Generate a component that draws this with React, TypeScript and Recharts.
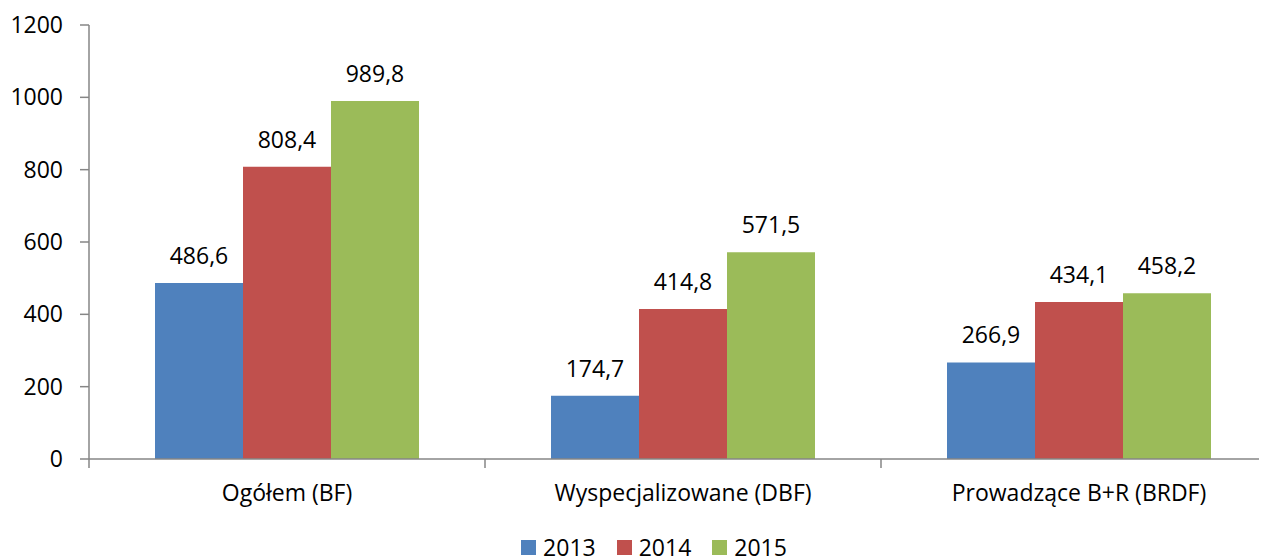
import React from 'react';
import { BarChart, Bar, XAxis, YAxis, Legend, LabelList } from 'recharts';

const categories = ['Ogółem (BF)', 'Wyspecjalizowane (DBF)', 'Prowadzące B+R (BRDF)'];
const values2013 = [486.6, 174.7, 266.9];
const values2014 = [808.4, 414.8, 434.1];
const values2015 = [989.8, 571.5, 458.2];
const yTicks = [0, 200, 400, 600, 800, 1000, 1200];
const seriesNames = ['2013', '2014', '2015'];
const seriesColors = ['#4F81BD', '#C0504D', '#9BBB59'];

const data = categories.map((c, i) => ({
  name: c,
  y2013: values2013[i],
  y2014: values2014[i],
  y2015: values2015[i],
}));

const FONT = '"Open Sans", sans-serif';
const FS = 23;
const AXIS = '#868686';
const fmt = (v: any) => Number(v).toFixed(1).replace('.', ',');

const CatTick = (props: any) => {
  const { x, y, payload } = props;
  const off = payload && payload.offset != null ? payload.offset : props.width / (props.visibleTicksCount || 3) / 2;
  return (
    <g>
      <line x1={x - off} x2={x - off} y1={y - 9} y2={y} stroke={AXIS} strokeWidth={1.5} />
      <text x={x} y={y} dy={33} textAnchor="middle" fontSize={FS} fill="#000" fontFamily={FONT}>
        {payload.value}
      </text>
    </g>
  );
};

const LegendContent = () => (
  <div style={{ display: 'flex', justifyContent: 'center', alignItems: 'center', height: 18, fontFamily: FONT, fontSize: FS, lineHeight: '18px', color: '#000' }}>
    {seriesNames.map((n, i) => (
      <div key={n} style={{ display: 'flex', alignItems: 'center', marginLeft: i === 0 ? 0 : 21 }}>
        <span style={{ display: 'inline-block', width: 15, height: 15, background: seriesColors[i] }} />
        <span style={{ marginLeft: 7 }}>{n}</span>
      </div>
    ))}
  </div>
);

export default function App() {
  return (
    <div style={{ width: 1251, height: 551, overflowX: 'clip', overflowY: 'visible', fontFamily: FONT }}>
      <BarChart
        width={1275}
        height={551}
        data={data}
        margin={{ top: 17, right: 6, bottom: 3, left: 0 }}
        barSize={88}
        barGap={0}
      >
        <YAxis
          width={81}
          domain={[0, 1200]}
          ticks={yTicks}
          interval={0}
          tickSize={9}
          tickMargin={17}
          stroke={AXIS}
          strokeWidth={1.5}
          tick={{ fontSize: FS, fill: '#000', fontFamily: FONT }}
        />
        <XAxis
          dataKey="name"
          height={79}
          tickSize={9}
          tickMargin={0}
          tickLine={false}
          stroke={AXIS}
          strokeWidth={1.5}
          tick={<CatTick />}
          interval={0}
        />
        <Legend verticalAlign="bottom" content={<LegendContent />} wrapperStyle={{ left: 0, width: 1292 }} />
        {['y2013', 'y2014', 'y2015'].map((k, i) => (
          <Bar key={k} dataKey={k} name={seriesNames[i]} fill={seriesColors[i]} isAnimationActive={false}>
            <LabelList dataKey={k} position="top" offset={19} formatter={fmt} fontSize={FS} fill="#000" fontFamily={FONT} />
          </Bar>
        ))}
      </BarChart>
    </div>
  );
}
